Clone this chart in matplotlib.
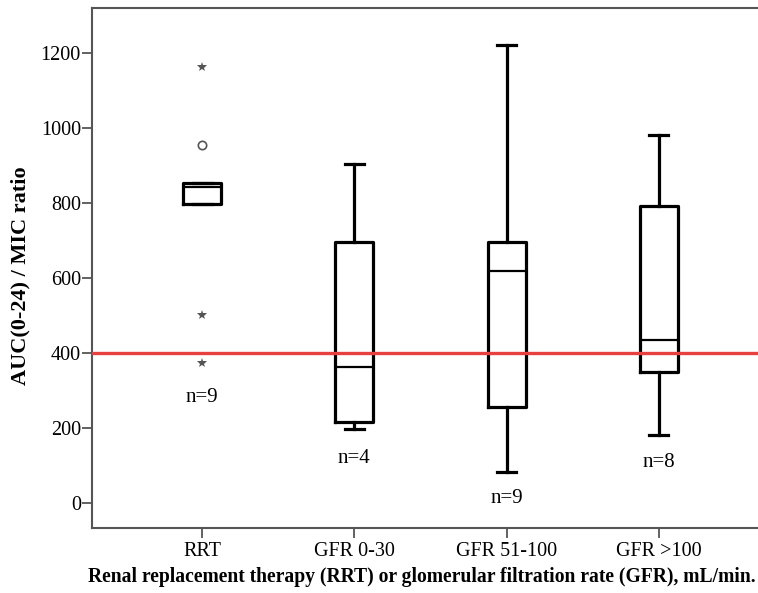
import matplotlib.pyplot as plt
import numpy as np

plt.rcParams['font.family'] = ['Liberation Serif', 'DejaVu Serif']

groups = ["RRT", "GFR 0-30", "GFR 51-100", "GFR >100"]
whislo = [797, 197, 83, 181]
q1 = [797, 216, 257, 349]
med = [843, 363, 619, 435]
q3 = [853, 696, 697, 793]
whishi = [853, 904, 1220, 981]
n_counts = [9, 4, 9, 8]
n_ypos = [282, 118, 12, 107]

# RRT outliers: circle = outlier, star = extreme
rrt_circle = [955]
rrt_stars = [1163, 501, 373]
threshold = 400

fig = plt.figure(figsize=(7.58, 5.93), dpi=100)
ax = fig.add_axes([92/758, (593-528)/593, (770-92)/758, (528-8)/593])

pos = np.arange(1, len(groups) + 1)
stats = []
for i in range(len(groups)):
    stats.append(dict(whislo=whislo[i], q1=q1[i], med=med[i], q3=q3[i],
                      whishi=whishi[i], fliers=[]))

lw = 2.3
ax.bxp(stats, positions=pos, widths=0.25, showfliers=False,
       boxprops=dict(color="black", linewidth=lw),
       whiskerprops=dict(color="black", linewidth=lw),
       capprops=dict(color="black", linewidth=lw),
       medianprops=dict(color="black", linewidth=1.6),
       capwidths=0.125, zorder=3)

ax.plot([pos[0]] * len(rrt_stars), rrt_stars, linestyle="none", marker="*",
        markersize=7, color="#555555", markeredgewidth=0)
ax.plot([pos[0]] * len(rrt_circle), rrt_circle, linestyle="none", marker="o",
        markersize=6, markerfacecolor="white", markeredgecolor="#555555",
        markeredgewidth=1.2)

ax.axhline(threshold, color="#e8403f", linewidth=2.4, zorder=4)

for p, n, y in zip(pos, n_counts, n_ypos):
    ax.text(p, y, "n=%d" % n, ha="center", va="center", fontsize=15)

ax.set_xlim(0.277, 4.73)
ax.set_ylim(-67, 1320)
ax.set_xticks(pos)
ax.set_xticklabels(groups, fontsize=14.5)
ax.set_yticks([0, 200, 400, 600, 800, 1000, 1200])
ax.set_yticklabels([str(v) for v in [0, 200, 400, 600, 800, 1000, 1200]],
                   fontsize=14.5)
ax.tick_params(axis="both", direction="out", length=7, width=1.3, color="#555555")
ax.tick_params(axis="y", pad=1)
ax.tick_params(axis="x", pad=3)

for s in ["left", "bottom", "top"]:
    ax.spines[s].set_color("#555555")
    ax.spines[s].set_linewidth(1.5)
ax.spines["right"].set_visible(False)

ax.set_ylabel("AUC(0-24) / MIC ratio", fontsize=16, fontweight="bold")
ax.yaxis.set_label_coords(-0.09, 0.485)
ax.set_xlabel("Renal replacement therapy (RRT) or glomerular filtration rate (GFR), mL/min.",
              fontsize=14.1, fontweight="bold")
ax.xaxis.set_label_coords((422 - 92) / 678, -(577 - 528) / 520)
ax.xaxis.label.set_va("center")

fig.savefig("out.png", dpi=100)
